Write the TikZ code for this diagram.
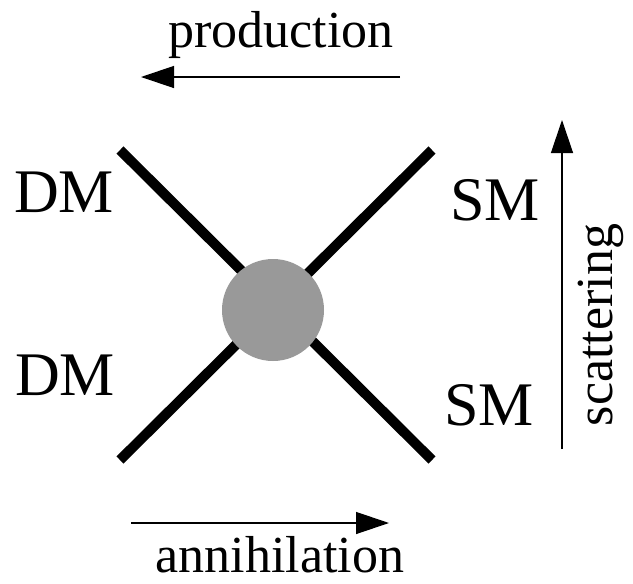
\documentclass[tikz,border=0pt]{standalone}
\usepackage{fontspec}
\setmainfont{Liberation Serif}
\usetikzlibrary{arrows.meta}
\definecolor{blobgray}{RGB}{153,153,153}
\tikzset{
  leg/.style={line width=10pt, draw=black},
  blob/.style={circle, fill=blobgray, minimum size=102pt, inner sep=0pt},
  lbl/.style={font=\fontsize{52}{60}\selectfont, inner sep=0pt, anchor=base},
  big/.style={lbl, font=\fontsize{62}{70}\selectfont},
  arr/.style={-{Triangle[length=33pt,width=22pt]}, line width=1.3pt}
}
\begin{document}
\begin{tikzpicture}[x=1pt, y=-1pt]
  \useasboundingbox (0,0) rectangle (633,584);
  % external legs
  \coordinate (dm1) at (120,150);
  \coordinate (dm2) at (120,460);
  \coordinate (sm1) at (432,150);
  \coordinate (sm2) at (432,460);
  \draw[leg] (dm1) -- (sm2);
  \draw[leg] (dm2) -- (sm1);
  \node[blob] (vtx) at (273,310) {};
  % particle labels
  \node[big] (ldm1) at (64,212) {DM};
  \node[big] (ldm2) at (65,395) {DM};
  \node[big] (lsm1) at (495,220) {SM};
  \node[big] (lsm2) at (489,425) {SM};
  % process directions
  \node[lbl] (prod) at (281,47) {production};
  \coordinate (pa) at (400,77);
  \coordinate (pb) at (141,77);
  \draw[arr] (pa) -- (pb);
  \node[lbl] (ann) at (280,572) {annihilation};
  \coordinate (aa) at (131,523);
  \coordinate (ab) at (389,523);
  \draw[arr] (aa) -- (ab);
  \node[lbl, rotate=90] (scat) at (612,325) {scattering};
  \coordinate (sa) at (562,449);
  \coordinate (sb) at (562,120);
  \draw[arr] (sa) -- (sb);
\end{tikzpicture}
\end{document}
